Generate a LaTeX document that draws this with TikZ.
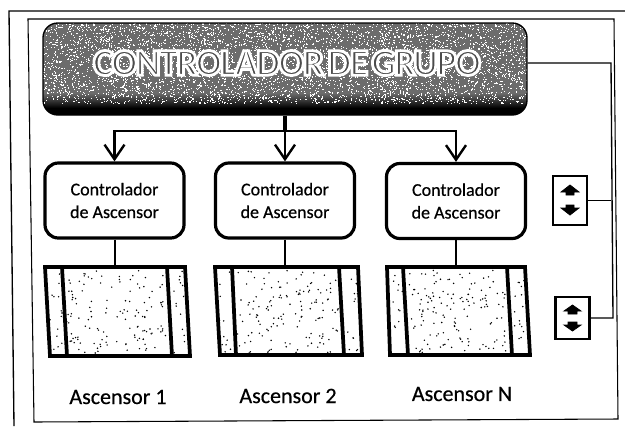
\documentclass[tikz,border=0pt]{standalone}
\usepackage{fontspec}
\setmainfont[FakeBold=0.5]{Carlito}
\usetikzlibrary{arrows.meta}
\newfontfamily\titlefont[LetterSpace=-4,WordSpace=0.45]{Carlito Bold}
\newcommand{\outlined}[1]{\special{pdf:code q 2 Tr 1 1 1 RG 0.3 0.3 0.3 rg 2.1 w}#1\special{pdf:code Q}}
\newcommand{\stipple}[5]{% x0 y0 width height count
  \pgfmathsetseed{#5}
  \foreach \i in {1,...,#5}{
    \fill[black] ({#1+rnd*#3},{#2+rnd*#4}) circle[radius=0.8];}
}
\tikzset{
  frameline/.style={black,line width=0.8pt},
  ctrl/.style={draw,line width=2.4pt,rounded corners=10pt,minimum width=104.25pt,minimum height=56.25pt,inner sep=0pt,align=center,font=\fontsize{13.5}{17}\selectfont},
  wire/.style={black,line width=1pt},
  bus/.style={black,line width=1.8pt},
  arrowed/.style={bus,-{Straight Barb[length=11pt,width=15pt,line width=1.8pt]}},
  link/.style={black,line width=2pt},
  cabin/.style={black,line width=2.8pt,line join=miter},
  door/.style={black,line width=2.8pt},
  panel/.style={draw,line width=1.8pt,inner sep=0pt},
  caption/.style={font=\fontsize{16.5}{18}\selectfont},
  tiparrow/.style={fill=black,draw=black,line width=0.6pt},
  maintitle/.style={font=\titlefont\fontsize{28.5}{30}\selectfont,text=white}
}
\begin{document}
\begin{tikzpicture}[x=0.75pt,y=-0.75pt]
\useasboundingbox (0,0) rectangle (625,426);
\fill[white] (0,0) rectangle (625,426);
% outer and inner frames
\draw[frameline,line width=1pt] (14,426) -- (9,11) -- (625,11);
\draw[frameline] (34,422) -- (28,19) -- (614,19) -- (618,419) -- cycle;
% main controller
\begin{scope}
\clip[rounded corners=11pt] (43,23) rectangle (527,115);
\fill[gray!85!black] (43,23) rectangle (527,98);
\shade[top color=gray!85!black,bottom color=black] (43,93) rectangle (527,108);
\fill[black] (43,107.5) rectangle (527,116);
\pgfmathsetseed{7}
\foreach \i in {1,...,5000}{
  \fill[white] ({43+rnd*484},{23+rnd*80}) rectangle ++(1.1,1.1);}
\end{scope}
\node[rounded corners=11pt,minimum width=363pt,minimum height=69pt,inner sep=0pt,
      draw=black,line width=1pt] (main) at (285,69) {};
\node[maintitle] (title) at (287,63) {\outlined{CONTROLADOR DE GRUPO}};
% group controllers
\node[ctrl] (c1) at (114.5,200.5) {Controlador\\de Ascensor};
\node[ctrl] (c2) at (285,200.5) {Controlador\\de Ascensor};
\node[ctrl] (c3) at (456,201) {Controlador\\de Ascensor};
% bus
\coordinate (busc) at (285,131);
\draw[bus,line width=2.4pt] (main.south -| busc) -- (busc);
\draw[arrowed] (busc) -| (c1.north);
\draw[arrowed] (busc) -- (c2.north -| busc);
\draw[arrowed] (busc) -| (c3.north);
% cabins
\coordinate (k1) at (115,267);
\coordinate (k2) at (285,267);
\coordinate (k3) at (456,267);
\stipple{66}{270}{100}{83}{130}
\stipple{49}{270}{14}{83}{14}
\stipple{174}{270}{12}{83}{15}
\stipple{237}{270}{102}{83}{140}
\stipple{219}{270}{12}{83}{12}
\stipple{346}{270}{12}{83}{13}
\stipple{409}{270}{97}{83}{141}
\stipple{391}{270}{12}{83}{11}
\stipple{514}{270}{12}{83}{16}
\draw[cabin] (45,267) -- (185,267) -- (190,356) -- (50,356) -- cycle;
\draw[door] (62,267) -- (67,356);
\draw[door] (167,267) -- (172,356);
\draw[cabin] (215,267) -- (358,267) -- (362,355) -- (220,355) -- cycle;
\draw[door] (232,267) -- (236,355);
\draw[door] (339,267) -- (344,355);
\draw[cabin] (387,267) -- (525,267) -- (530,355) -- (390,355) -- cycle;
\draw[door] (403,267) -- (408,355);
\draw[door] (507,267) -- (512,355);
\draw[link] (c1.south -| k1) -- (k1);
\draw[link] (c2.south -| k2) -- (k2);
\draw[link] (c3.south -| k3) -- (k3);
% captions
\node[caption] (l1) at (118,397) {Ascensor 1};
\node[caption] (l2) at (288,396) {Ascensor 2};
\node[caption] (l3) at (462,394) {Ascensor N};
% call panels
\node[panel,minimum width=25.5pt,minimum height=36.75pt] (p1) at (570,200.5) {};
\node[panel,minimum width=25.5pt,minimum height=31.5pt] (p2) at (572.5,318) {};
\fill[tiparrow] (561,192) -- (570,185) -- (579,192) -- (574,192) -- (574,195) -- (566,195) -- (566,192) -- cycle;
\fill[tiparrow] (561,208) -- (570,215) -- (579,208) -- (574,208) -- (574,205) -- (566,205) -- (566,208) -- cycle;
\fill[tiparrow] (564,311) -- (572.5,305) -- (581,311) -- (577,311) -- (577,314) -- (568,314) -- (568,311) -- cycle;
\fill[tiparrow] (564,325) -- (572.5,331) -- (581,325) -- (577,325) -- (577,322) -- (568,322) -- (568,325) -- cycle;
% panel wiring
\coordinate (w1) at (611,63);
\coordinate (w2) at (613,318);
\draw[wire] (main.east |- w1) -- (w1) -- (w2) -- (p2.east |- w2);
\draw[wire] (p1.east) -- (p1.east -| w1);
\end{tikzpicture}
\end{document}
